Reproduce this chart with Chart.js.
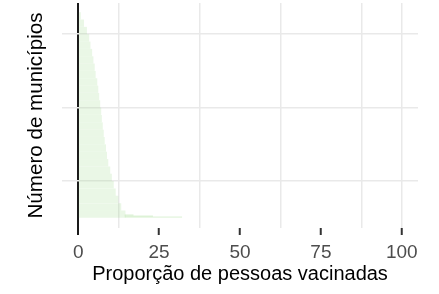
<!DOCTYPE html>
<html>
<head>
<meta charset="utf-8">
<script src="https://cdn.jsdelivr.net/npm/chart.js@4.4.1/dist/chart.umd.min.js"></script>
<style>
  html, body { margin: 0; padding: 0; background: #fff; }
  canvas { display: block; }
</style>
</head>
<body>
<canvas id="grafico" width="439" height="294"></canvas>
<script>
// posição (ordem) dos municípios no eixo y e proporção de vacinados
const municipios = [100, 300, 500, 700, 900, 1100, 1300, 1500, 1700, 1900, 2100, 2300, 2500, 2700,
                    2900, 3100, 3300, 3500, 3700, 3900, 4100, 4300, 4500, 4700, 4900, 5100, 5300, 5500];
const proporcao = [14.5, 13.2, 12.3, 11.5, 10.9, 10.3, 9.8, 9.2, 8.8, 8.5, 8.1, 7.8, 7.5, 7.2,
                   7.0, 6.7, 6.4, 6.1, 5.8, 5.3, 5.0, 4.6, 4.2, 3.7, 3.3, 2.6, 1.7, 0.7];
// cauda: poucos municípios com proporção mais alta
const caudaMunicipios = [15, 45, 75];
const caudaInicio = [14.5, 14.5, 14.5];
const caudaFim = [32, 23, 17];

const xBreaks = [0, 12.5, 25, 37.5, 50, 62.5, 75, 87.5, 100];
const yBreaks = [1000, 3000, 5000];

const fonte = '"Liberation Sans", Arial, sans-serif';
const verde = 'rgba(144, 210, 120, 0.19)';

const ctx = document.getElementById('grafico').getContext('2d');
new Chart(ctx, {
  type: 'bar',
  data: {
    datasets: [
      {
        data: municipios.map((m, i) => ({ x: proporcao[i], y: m })),
        backgroundColor: verde,
        borderWidth: 0,
        barThickness: 6.6,
        grouped: false
      },
      {
        data: caudaMunicipios.map((m, i) => ({ x: [caudaInicio[i], caudaFim[i]], y: m })),
        backgroundColor: verde,
        borderWidth: 0,
        barThickness: 1.1,
        grouped: false
      }
    ]
  },
  options: {
    indexAxis: 'y',
    responsive: false,
    animation: false,
    layout: { padding: { top: 3, right: 21, bottom: 0, left: 0 } },
    plugins: { legend: { display: false }, tooltip: { enabled: false } },
    scales: {
      x: {
        type: 'linear',
        min: -5,
        max: 105,
        afterBuildTicks: s => { s.ticks = xBreaks.map(v => ({ value: v })); },
        afterFit: s => { s.height = 66; },
        border: { display: false },
        grid: {
          color: c => c.tick.value === 0 ? '#1a1a1a' : (c.tick.value % 25 === 0 && c.tick.value !== 100 ? 'rgba(0,0,0,0)' : '#e9e9e9'),
          lineWidth: c => c.tick.value === 0 ? 2 : 1.5,
          tickColor: c => c.tick.value === 0 ? '#1a1a1a' : (c.tick.value % 25 === 0 ? '#333333' : 'rgba(0,0,0,0)'),
          tickWidth: 2,
          tickLength: 7
        },
        ticks: {
          autoSkip: false,
          maxRotation: 0,
          padding: 6,
          color: '#4d4d4d',
          font: { family: fonte, size: 19 },
          callback: v => v % 25 === 0 ? String(v) : ''
        },
        title: {
          display: true,
          text: 'Proporção de pessoas vacinadas',
          color: '#000',
          font: { family: fonte, size: 20 },
          padding: { top: 0, bottom: 8 }
        }
      },
      y: {
        type: 'linear',
        min: -278.5,
        max: 5848.5,
        offset: false,
        afterBuildTicks: s => { s.ticks = yBreaks.map(v => ({ value: v })); },
        afterFit: s => { s.width = 62; },
        border: { display: false },
        grid: { offset: false, color: '#e9e9e9', lineWidth: 1.6, drawTicks: false },
        ticks: { display: false },
        title: {
          display: true,
          text: 'Número de municípios',
          color: '#000',
          font: { family: fonte, size: 20.6 },
          padding: { top: 24, bottom: 0 }
        }
      }
    }
  }
});
</script>
</body>
</html>
